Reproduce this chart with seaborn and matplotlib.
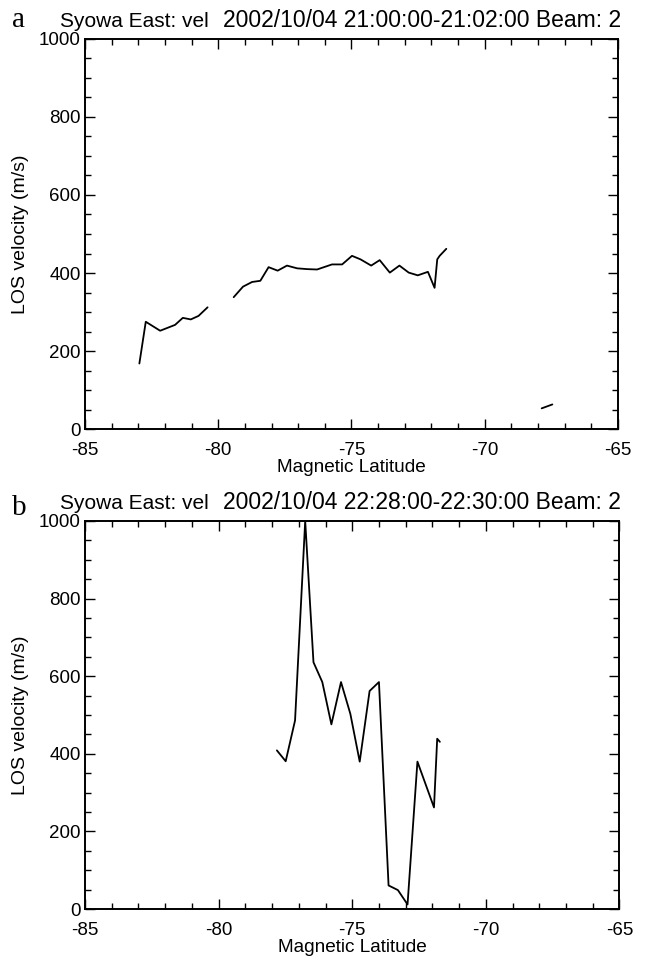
import matplotlib
matplotlib.use("Agg")
import numpy as np
import pandas as pd
import matplotlib.pyplot as plt
import seaborn as sns
from matplotlib.ticker import MultipleLocator

# panel a: three separate stretches of backscatter
lat_a = [-82.96, -82.72, -82.18, -81.62, -81.33, -81.03, -80.74, -80.40,
         -79.42, -79.07, -78.73, -78.42, -78.11, -77.77, -77.42, -77.04,
         -76.67, -76.29, -75.73, -75.35, -74.98, -74.66, -74.26, -73.94,
         -73.56, -73.20, -72.85, -72.51, -72.13, -71.88, -71.78, -71.69,
         -71.44,
         -67.86, -67.46]
vel_a = [168, 275, 252, 267, 285, 281, 290, 312,
         338, 365, 377, 380, 415, 406, 419, 412,
         410, 409, 422, 422, 444, 435, 419, 433,
         401, 419, 401, 394, 403, 362, 435, 444,
         462,
         53, 63]
seg_a = [0] * 8 + [1] * 25 + [2] * 2

# panel b: one continuous stretch
lat_b = [-77.82, -77.49, -77.14, -76.76, -76.45, -76.12, -75.78, -75.42,
         -75.07, -74.72, -74.35, -74.00, -73.64, -73.29, -72.93, -72.56,
         -71.94, -71.82, -71.72]
vel_b = [409, 381, 486, 1000, 636, 585, 476, 585,
         503, 380, 562, 585, 61, 49, 12, 380,
         262, 439, 431]
seg_b = [0] * len(lat_b)

stations = ["Syowa East: vel", "Syowa East: vel"]
times = ["2002/10/04 21:00:00-21:02:00 Beam: 2",
         "2002/10/04 22:28:00-22:30:00 Beam: 2"]
letters = ["a", "b"]

sns.set_style("ticks")
plt.rcParams["font.family"] = ["Liberation Sans", "DejaVu Sans"]
plt.rcParams["axes.unicode_minus"] = False
plt.rcParams["text.color"] = "black"
plt.rcParams["axes.labelcolor"] = "black"
plt.rcParams["xtick.color"] = "black"
plt.rcParams["ytick.color"] = "black"
plt.rcParams["axes.edgecolor"] = "black"

fig = plt.figure(figsize=(6.47, 9.6), dpi=100)

panels = [
    (pd.DataFrame({"lat": lat_a, "vel": vel_a, "seg": seg_a}), [0.1314, 0.5531, 0.8236, 0.4063]),
    (pd.DataFrame({"lat": lat_b, "vel": vel_b, "seg": seg_b}), [0.1314, 0.0530, 0.8260, 0.4043]),
]

for i, (df, rect) in enumerate(panels):
    ax = fig.add_axes(rect)
    sns.lineplot(data=df, x="lat", y="vel", units="seg", estimator=None,
                 color="black", linewidth=1.3, ax=ax, legend=False)
    ax.set_xlim(-85, -65)
    ax.set_ylim(0, 1000)
    ax.xaxis.set_major_locator(MultipleLocator(5))
    ax.xaxis.set_minor_locator(MultipleLocator(1))
    ax.yaxis.set_major_locator(MultipleLocator(200))
    ax.yaxis.set_minor_locator(MultipleLocator(50))
    ax.tick_params(which="both", direction="in", top=True, right=True,
                   width=1.0, labelsize=13.5)
    ax.tick_params(axis="x", which="both", pad=9)
    ax.tick_params(axis="y", which="both", pad=3)
    ax.tick_params(which="major", length=7)
    ax.tick_params(which="minor", length=4)
    for sp in ax.spines.values():
        sp.set_linewidth(1.4)
        sp.set_visible(True)
    ax.set_xlabel("Magnetic Latitude", fontsize=13.7, labelpad=0.5)
    ax.set_ylabel("LOS velocity (m/s)", fontsize=14, labelpad=7)

    top = rect[1] + rect[3]
    fig.text(60 / 647, top + 0.012, stations[i], fontsize=15,
             ha="left", va="baseline")
    fig.text(223 / 647, top + 0.012, times[i], fontsize=16.5,
             ha="left", va="baseline")
    fig.text(12 / 647, top + 0.012 - i * 0.006, letters[i], fontsize=21,
             family="Liberation Serif", ha="left", va="baseline")

fig.savefig("out.png", dpi=100)
